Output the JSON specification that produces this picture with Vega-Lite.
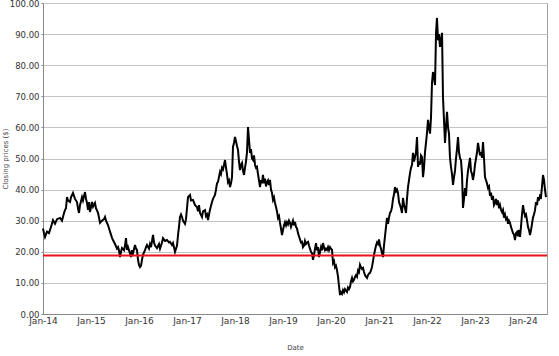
{
  "$schema": "https://vega.github.io/schema/vega-lite/v6.json",
  "width": 504,
  "height": 311,
  "autosize": "none",
  "padding": {"left": 43, "top": 3, "right": 12, "bottom": 42},
  "background": "white",
  "config": {
    "view": {"stroke": "#a0a0a0", "strokeWidth": 1},
    "axis": {"labelFont": "DejaVu Sans", "titleFont": "DejaVu Sans", "labelColor": "#333", "titleColor": "#444", "domainColor": "#888", "tickColor": "#888", "gridColor": "#c4c4c4", "titleFontWeight": "normal"}
  },
  "datasets": {
    "prices": [
      {"t":2014,"v":27.5},{"t":2014.021,"v":26},{"t":2014.042,"v":24.8},{"t":2014.083,"v":26.5},{"t":2014.125,"v":26},{"t":2014.167,"v":28},{"t":2014.208,"v":30.2},{"t":2014.25,"v":29},{"t":2014.292,"v":30.5},{"t":2014.354,"v":30.9},{"t":2014.396,"v":30},{"t":2014.438,"v":32.5},{"t":2014.458,"v":33.4},{"t":2014.479,"v":34},{"t":2014.5,"v":37.6},{"t":2014.521,"v":36.5},{"t":2014.563,"v":36},{"t":2014.583,"v":37.5},{"t":2014.625,"v":38.9},{"t":2014.667,"v":37},{"t":2014.708,"v":36},{"t":2014.729,"v":34},{"t":2014.75,"v":32.5},{"t":2014.771,"v":35},{"t":2014.813,"v":37.6},{"t":2014.833,"v":36.5},{"t":2014.875,"v":39.2},{"t":2014.896,"v":37},{"t":2014.917,"v":35.7},{"t":2014.938,"v":33.5},{"t":2014.958,"v":36},{"t":2014.979,"v":32.8},
      {"t":2015.021,"v":36},{"t":2015.042,"v":34.5},{"t":2015.083,"v":35.7},{"t":2015.104,"v":34},{"t":2015.146,"v":32.5},{"t":2015.167,"v":31},{"t":2015.188,"v":29.3},{"t":2015.229,"v":30},{"t":2015.271,"v":30.5},{"t":2015.292,"v":31.2},{"t":2015.313,"v":30},{"t":2015.354,"v":28.6},{"t":2015.396,"v":26.5},{"t":2015.438,"v":24.5},{"t":2015.458,"v":23.8},{"t":2015.5,"v":22.5},{"t":2015.542,"v":21},{"t":2015.563,"v":21.5},{"t":2015.583,"v":20.5},{"t":2015.604,"v":18.3},{"t":2015.625,"v":20},{"t":2015.646,"v":21.2},{"t":2015.688,"v":20.5},{"t":2015.708,"v":22},{"t":2015.729,"v":24.4},{"t":2015.75,"v":20.6},{"t":2015.771,"v":21.5},{"t":2015.813,"v":19.5},{"t":2015.833,"v":18.3},{"t":2015.854,"v":20.5},{"t":2015.875,"v":19.5},{"t":2015.917,"v":22.2},{"t":2015.938,"v":21},{"t":2015.958,"v":20.6},{"t":2015.979,"v":17.5},
      {"t":2016,"v":15.8},{"t":2016.021,"v":15.1},{"t":2016.042,"v":15.5},{"t":2016.063,"v":17.5},{"t":2016.083,"v":19},{"t":2016.125,"v":20.5},{"t":2016.146,"v":21.5},{"t":2016.167,"v":22.2},{"t":2016.208,"v":21},{"t":2016.229,"v":22.5},{"t":2016.25,"v":21.5},{"t":2016.292,"v":25.4},{"t":2016.313,"v":23},{"t":2016.333,"v":22},{"t":2016.375,"v":21.2},{"t":2016.417,"v":22.5},{"t":2016.438,"v":21},{"t":2016.479,"v":23},{"t":2016.5,"v":24.4},{"t":2016.542,"v":23.5},{"t":2016.583,"v":23.8},{"t":2016.625,"v":23},{"t":2016.646,"v":23.2},{"t":2016.688,"v":22.2},{"t":2016.708,"v":22.8},{"t":2016.729,"v":21.5},{"t":2016.75,"v":20},{"t":2016.771,"v":21},{"t":2016.792,"v":22},{"t":2016.813,"v":25.4},{"t":2016.833,"v":28},{"t":2016.854,"v":31.2},{"t":2016.875,"v":32},{"t":2016.896,"v":31.2},{"t":2016.917,"v":30},{"t":2016.958,"v":29},{"t":2016.979,"v":30.5},
      {"t":2017,"v":34},{"t":2017.021,"v":37.6},{"t":2017.042,"v":38},{"t":2017.063,"v":38.3},{"t":2017.083,"v":36.5},{"t":2017.125,"v":36.7},{"t":2017.167,"v":35},{"t":2017.208,"v":34.4},{"t":2017.229,"v":33},{"t":2017.25,"v":35},{"t":2017.271,"v":32.5},{"t":2017.313,"v":31.2},{"t":2017.333,"v":33},{"t":2017.375,"v":33.4},{"t":2017.396,"v":31.5},{"t":2017.417,"v":32},{"t":2017.438,"v":30.2},{"t":2017.458,"v":32},{"t":2017.479,"v":33.5},{"t":2017.521,"v":36},{"t":2017.542,"v":37},{"t":2017.583,"v":38.3},{"t":2017.604,"v":40},{"t":2017.625,"v":42},{"t":2017.646,"v":42.5},{"t":2017.688,"v":45.7},{"t":2017.708,"v":45},{"t":2017.729,"v":47},{"t":2017.75,"v":46.5},{"t":2017.792,"v":49.5},{"t":2017.813,"v":47},{"t":2017.833,"v":45},{"t":2017.854,"v":42.4},{"t":2017.875,"v":43},{"t":2017.896,"v":40.8},{"t":2017.917,"v":42},{"t":2017.938,"v":44},{"t":2017.958,"v":53.7},{"t":2017.979,"v":55},
      {"t":2018,"v":56.9},{"t":2018.021,"v":55.5},{"t":2018.042,"v":54},{"t":2018.063,"v":52.7},{"t":2018.083,"v":49},{"t":2018.104,"v":46.3},{"t":2018.125,"v":48},{"t":2018.146,"v":48.6},{"t":2018.167,"v":46},{"t":2018.188,"v":44.7},{"t":2018.208,"v":47},{"t":2018.229,"v":49},{"t":2018.25,"v":52},{"t":2018.271,"v":60.1},{"t":2018.292,"v":56},{"t":2018.313,"v":51.8},{"t":2018.333,"v":53},{"t":2018.354,"v":50},{"t":2018.375,"v":49.5},{"t":2018.396,"v":51},{"t":2018.417,"v":48},{"t":2018.438,"v":47},{"t":2018.458,"v":47.3},{"t":2018.479,"v":45},{"t":2018.5,"v":43},{"t":2018.521,"v":40.8},{"t":2018.542,"v":43},{"t":2018.563,"v":42.1},{"t":2018.583,"v":44.7},{"t":2018.604,"v":42},{"t":2018.625,"v":43.5},{"t":2018.646,"v":41},{"t":2018.667,"v":42.4},{"t":2018.688,"v":43},{"t":2018.708,"v":41.5},{"t":2018.729,"v":43.1},{"t":2018.75,"v":40},{"t":2018.771,"v":38.9},{"t":2018.792,"v":36.7},{"t":2018.813,"v":37.5},{"t":2018.833,"v":35.7},{"t":2018.854,"v":34.4},{"t":2018.875,"v":33},{"t":2018.896,"v":30.9},{"t":2018.917,"v":31.5},{"t":2018.938,"v":29.3},{"t":2018.958,"v":27.5},{"t":2018.979,"v":25.4},
      {"t":2019,"v":27},{"t":2019.021,"v":28.5},{"t":2019.042,"v":29.5},{"t":2019.063,"v":28.5},{"t":2019.083,"v":29.5},{"t":2019.104,"v":28.8},{"t":2019.125,"v":30},{"t":2019.146,"v":29.3},{"t":2019.167,"v":28},{"t":2019.188,"v":29},{"t":2019.208,"v":30},{"t":2019.229,"v":28.5},{"t":2019.25,"v":29.6},{"t":2019.271,"v":28},{"t":2019.292,"v":27.5},{"t":2019.313,"v":26},{"t":2019.333,"v":25},{"t":2019.354,"v":24},{"t":2019.375,"v":23},{"t":2019.396,"v":23.2},{"t":2019.417,"v":21.5},{"t":2019.438,"v":22},{"t":2019.458,"v":23.5},{"t":2019.479,"v":22.5},{"t":2019.5,"v":23},{"t":2019.521,"v":23.2},{"t":2019.542,"v":22},{"t":2019.563,"v":21},{"t":2019.583,"v":20},{"t":2019.604,"v":19.6},{"t":2019.625,"v":17.4},{"t":2019.646,"v":19},{"t":2019.667,"v":21},{"t":2019.688,"v":22.8},{"t":2019.708,"v":20.5},{"t":2019.729,"v":21.5},{"t":2019.75,"v":18.3},{"t":2019.771,"v":20},{"t":2019.792,"v":21.5},{"t":2019.813,"v":20.5},{"t":2019.833,"v":22.8},{"t":2019.854,"v":21.5},{"t":2019.875,"v":20.5},{"t":2019.896,"v":21},{"t":2019.917,"v":20.6},{"t":2019.938,"v":21.5},{"t":2019.958,"v":20.5},{"t":2019.979,"v":21.5},
      {"t":2020,"v":21},{"t":2020.021,"v":20.6},{"t":2020.042,"v":16.4},{"t":2020.063,"v":17},{"t":2020.083,"v":15},{"t":2020.104,"v":15.5},{"t":2020.125,"v":14.1},{"t":2020.146,"v":12},{"t":2020.167,"v":9},{"t":2020.188,"v":6.1},{"t":2020.208,"v":7},{"t":2020.229,"v":6.5},{"t":2020.25,"v":7.7},{"t":2020.271,"v":7},{"t":2020.292,"v":8},{"t":2020.313,"v":7.5},{"t":2020.333,"v":7.1},{"t":2020.354,"v":8.5},{"t":2020.375,"v":8},{"t":2020.396,"v":8.7},{"t":2020.417,"v":10.5},{"t":2020.438,"v":11.6},{"t":2020.458,"v":10.5},{"t":2020.479,"v":11},{"t":2020.5,"v":11.9},{"t":2020.521,"v":12.5},{"t":2020.542,"v":12},{"t":2020.563,"v":14},{"t":2020.583,"v":13.5},{"t":2020.604,"v":15.8},{"t":2020.625,"v":15},{"t":2020.646,"v":14.5},{"t":2020.667,"v":14.8},{"t":2020.688,"v":13.5},{"t":2020.708,"v":12.5},{"t":2020.729,"v":12},{"t":2020.75,"v":11.6},{"t":2020.771,"v":12.5},{"t":2020.792,"v":13},{"t":2020.813,"v":13.2},{"t":2020.833,"v":14},{"t":2020.854,"v":15.1},{"t":2020.875,"v":17},{"t":2020.896,"v":19},{"t":2020.917,"v":20.6},{"t":2020.938,"v":22},{"t":2020.958,"v":23},{"t":2020.979,"v":22.5},
      {"t":2021,"v":24},{"t":2021.021,"v":22},{"t":2021.042,"v":21},{"t":2021.063,"v":19.5},{"t":2021.083,"v":18.3},{"t":2021.104,"v":22},{"t":2021.125,"v":25},{"t":2021.146,"v":28},{"t":2021.167,"v":30.9},{"t":2021.188,"v":29},{"t":2021.208,"v":31},{"t":2021.229,"v":32.5},{"t":2021.25,"v":33},{"t":2021.271,"v":34.4},{"t":2021.292,"v":37},{"t":2021.313,"v":38.5},{"t":2021.333,"v":40.8},{"t":2021.354,"v":39.5},{"t":2021.375,"v":40},{"t":2021.396,"v":38.9},{"t":2021.417,"v":36},{"t":2021.438,"v":35},{"t":2021.458,"v":34},{"t":2021.479,"v":32.5},{"t":2021.5,"v":37.3},{"t":2021.521,"v":35},{"t":2021.542,"v":34},{"t":2021.563,"v":32.5},{"t":2021.583,"v":37},{"t":2021.604,"v":40.8},{"t":2021.625,"v":43},{"t":2021.646,"v":45.3},{"t":2021.667,"v":47},{"t":2021.688,"v":48},{"t":2021.708,"v":51.8},{"t":2021.729,"v":49},{"t":2021.75,"v":50.5},{"t":2021.771,"v":52},{"t":2021.792,"v":56.9},{"t":2021.813,"v":47.3},{"t":2021.833,"v":49},{"t":2021.854,"v":48},{"t":2021.875,"v":51},{"t":2021.896,"v":50.5},{"t":2021.917,"v":44},{"t":2021.938,"v":47},{"t":2021.958,"v":52},{"t":2021.979,"v":55},
      {"t":2022,"v":58.2},{"t":2022.021,"v":62.4},{"t":2022.042,"v":60},{"t":2022.063,"v":58},{"t":2022.083,"v":63},{"t":2022.104,"v":74.3},{"t":2022.125,"v":77.8},{"t":2022.146,"v":76},{"t":2022.167,"v":73.6},{"t":2022.188,"v":90.4},{"t":2022.208,"v":95.2},{"t":2022.229,"v":88},{"t":2022.25,"v":90},{"t":2022.271,"v":85.9},{"t":2022.292,"v":88},{"t":2022.313,"v":90.4},{"t":2022.333,"v":69.8},{"t":2022.354,"v":62.4},{"t":2022.375,"v":55},{"t":2022.396,"v":60},{"t":2022.417,"v":65},{"t":2022.438,"v":60},{"t":2022.458,"v":58},{"t":2022.479,"v":50.2},{"t":2022.5,"v":47.3},{"t":2022.521,"v":45},{"t":2022.542,"v":41.5},{"t":2022.563,"v":44},{"t":2022.583,"v":46},{"t":2022.604,"v":50},{"t":2022.625,"v":53},{"t":2022.646,"v":56.9},{"t":2022.667,"v":52},{"t":2022.688,"v":50},{"t":2022.708,"v":49.5},{"t":2022.729,"v":45},{"t":2022.75,"v":34.1},{"t":2022.771,"v":37},{"t":2022.792,"v":40.5},{"t":2022.813,"v":38},{"t":2022.833,"v":43},{"t":2022.854,"v":46},{"t":2022.875,"v":48},{"t":2022.896,"v":50.2},{"t":2022.917,"v":46},{"t":2022.938,"v":45},{"t":2022.958,"v":43.1},{"t":2022.979,"v":45},
      {"t":2023,"v":48},{"t":2023.021,"v":50},{"t":2023.042,"v":52},{"t":2023.063,"v":55},{"t":2023.083,"v":53},{"t":2023.104,"v":51},{"t":2023.125,"v":52},{"t":2023.146,"v":50.2},{"t":2023.167,"v":55.3},{"t":2023.188,"v":50},{"t":2023.208,"v":44},{"t":2023.229,"v":43},{"t":2023.25,"v":42},{"t":2023.271,"v":40.5},{"t":2023.292,"v":41},{"t":2023.313,"v":38},{"t":2023.333,"v":39},{"t":2023.354,"v":36.7},{"t":2023.375,"v":38},{"t":2023.396,"v":35},{"t":2023.417,"v":35.7},{"t":2023.438,"v":37},{"t":2023.458,"v":35},{"t":2023.479,"v":36.5},{"t":2023.5,"v":34},{"t":2023.521,"v":35},{"t":2023.542,"v":33.5},{"t":2023.563,"v":32.8},{"t":2023.583,"v":33.5},{"t":2023.604,"v":31},{"t":2023.625,"v":32},{"t":2023.646,"v":30.5},{"t":2023.667,"v":30.9},{"t":2023.688,"v":29},{"t":2023.708,"v":30},{"t":2023.729,"v":29.3},{"t":2023.75,"v":28},{"t":2023.771,"v":27},{"t":2023.792,"v":26},{"t":2023.813,"v":25.5},{"t":2023.833,"v":23.8},{"t":2023.854,"v":26},{"t":2023.875,"v":26.4},{"t":2023.896,"v":25},{"t":2023.917,"v":27},{"t":2023.938,"v":24.8},{"t":2023.958,"v":28},{"t":2023.979,"v":32},
      {"t":2024,"v":35},{"t":2024.021,"v":33},{"t":2024.042,"v":31.5},{"t":2024.063,"v":32},{"t":2024.083,"v":30.2},{"t":2024.104,"v":28},{"t":2024.125,"v":27},{"t":2024.146,"v":25.4},{"t":2024.167,"v":27},{"t":2024.188,"v":29},{"t":2024.208,"v":31},{"t":2024.229,"v":32},{"t":2024.25,"v":33.4},{"t":2024.271,"v":36},{"t":2024.292,"v":35},{"t":2024.313,"v":37.6},{"t":2024.333,"v":36.5},{"t":2024.354,"v":38},{"t":2024.375,"v":37.6},{"t":2024.396,"v":41},{"t":2024.417,"v":44.7},{"t":2024.438,"v":43},{"t":2024.458,"v":40},{"t":2024.479,"v":37.6}
    ],
    "threshold": [{"v": 18.8}]
  },
  "encoding": {
    "y": {"field": "v", "type": "quantitative", "scale": {"domain": [0, 100], "nice": false},
      "axis": {"title": "Closing prices ($)", "titleFontSize": 7, "titlePadding": 1, "values": [0,10,20,30,40,50,60,70,80,90,100], "format": ".2f", "labelFontSize": 8.5, "labelPadding": 2, "tickSize": 2, "grid": true, "labelOverlap": false, "labelFlush": false}}
  },
  "layer": [
    {
      "data": {"name": "prices"},
      "mark": {"type": "line", "color": "#000", "strokeWidth": 2, "strokeJoin": "miter"},
      "encoding": {
        "x": {"field": "t", "type": "quantitative", "scale": {"domain": [2014, 2024.5], "nice": false, "zero": false},
          "axis": {"title": "Date", "titleFontSize": 7, "titlePadding": 18, "values": [2014,2015,2016,2017,2018,2019,2020,2021,2022,2023,2024], "labelExpr": "'Jan-' + slice(toString(datum.value), 2)", "labelFontSize": 9, "labelPadding": 2, "tickSize": 0, "grid": false, "labelFlush": false, "labelOverlap": false}}
      }
    },
    {
      "data": {"name": "threshold"},
      "mark": {"type": "rule", "color": "#e8141c", "strokeWidth": 2},
      "encoding": {}
    }
  ]
}
